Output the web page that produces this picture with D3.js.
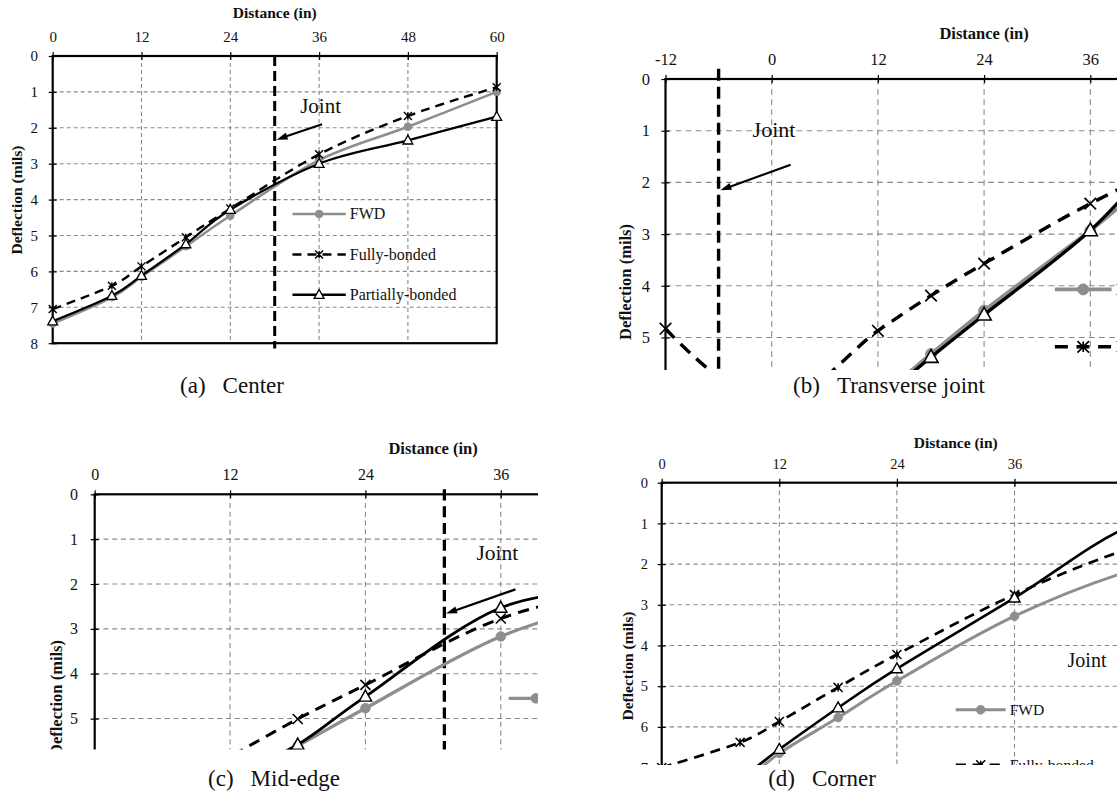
<!DOCTYPE html>
<html>
<head>
<meta charset="utf-8">
<script src="https://cdn.jsdelivr.net/npm/d3@7"></script>
<style>
  body { margin: 0; background: #fff; }
  svg { display: block; }
  text { font-family: "Liberation Serif", "Times New Roman", serif; fill: #111; }
</style>
</head>
<body>
<svg id="fig" width="1117" height="799"></svg>
<script>
// Sensor offsets from the load plate (in)
const distances = [0, 8, 12, 18, 24, 36, 48, 60];
const distancesTransverse = [-12, 0, 12, 18, 24, 36, 48, 60];

// Tick labels
const distanceTicks = [0, 12, 24, 36, 48, 60];
const distanceTicksTransverse = [-12, 0, 12, 24, 36, 48, 60];
const deflectionTicks8 = [0, 1, 2, 3, 4, 5, 6, 7, 8];
const deflectionTicks9 = [0, 1, 2, 3, 4, 5, 6, 7, 8, 9];

const seriesNames = ["FWD", "Fully-bonded", "Partially-bonded"];

// Deflection basins (mils)
const centerFWD       = [7.45, 6.72, 6.15, 5.30, 4.45, 2.90, 1.97, 1.00];
const centerFully     = [7.05, 6.40, 5.86, 5.05, 4.25, 2.74, 1.67, 0.87];
const centerPartially = [7.39, 6.68, 6.12, 5.24, 4.28, 3.00, 2.35, 1.69];

const transverseFWD       = [6.10, 7.60, 6.15, 5.32, 4.48, 2.93, 1.35, 0.80];
const transverseFully     = [4.83, 6.30, 4.87, 4.19, 3.57, 2.41, 1.45, 0.70];
const transversePartially = [6.30, 7.50, 6.20, 5.38, 4.56, 2.93, 0.90, 0.30];

const midEdgeFWD       = [7.60, 6.90, 6.40, 5.61, 4.77, 3.17, 2.25, 1.40];
const midEdgeFully     = [7.05, 6.40, 5.85, 5.01, 4.25, 2.77, 2.05, 1.50];
const midEdgePartially = [7.50, 6.80, 6.30, 5.58, 4.51, 2.53, 2.10, 1.70];

const cornerFWD       = [8.50, 7.40, 6.65, 5.77, 4.87, 3.28, 2.15, 1.50];
const cornerFully     = [7.00, 6.38, 5.87, 5.03, 4.22, 2.75, 1.60, 0.90];
const cornerPartially = [8.30, 7.25, 6.55, 5.53, 4.57, 2.83, 1.05, 0.50];

// Panel layout (pixels) and annotation placement (data units)
const panels = [
  {
    key: "a", caption: ["(a)", "Center"], capX: 232, capY: 385, star: true,
    xs: distances, fwd: centerFWD, full: centerFully, part: centerPartially,
    xDomain: [0, 60], xRange: [52.7, 496.7], yDomain: [0, 8], yRange: [56, 343.2],
    xTicks: distanceTicks, yTicks: deflectionTicks8,
    clip: [0, 0, 560, 372], k: 1,
    tickFont: 15, titleFont: 15.5, titleY: 13, xLabelOff: 19.3, yLabelOff: 14.7,
    yTitleX: 17, yTitleY: 200,
    joint: 30, jointTop: 0, jointBottom: 8.15, jointWidth: 3,
    arrow: [[36.4, 1.9], [30.25, 2.33]], jointLabel: [36.2, 1.4], jointFont: 21,
    legend: { x0: 32.4, x1: 39.6, rows: [4.4, 5.53, 6.65], font: 16 }
  },
  {
    key: "b", caption: ["(b)", "Transverse joint"], capX: 889, capY: 385, star: false,
    xs: distancesTransverse, fwd: transverseFWD, full: transverseFully, part: transversePartially,
    xDomain: [-12, 60], xRange: [665.5, 1302.7], yDomain: [0, 8], yRange: [79, 492.6],
    xTicks: distanceTicksTransverse, yTicks: deflectionTicks8,
    clip: [575, 0, 542, 370], k: 1.44,
    tickFont: 16.5, titleFont: 16.5, titleY: 34, xLabelOff: 19.7, yLabelOff: 15.5,
    yTitleX: 626, yTitleY: 282,
    joint: -6, jointTop: -0.2, jointBottom: 8.15, jointWidth: 3.4,
    arrow: [[2.14, 1.66], [-5.8, 2.15]], jointLabel: [0.26, 0.99], jointFont: 22,
    legend: { x0: 32.0, x1: 38.4, rows: [4.07, 5.18, 6.29], font: 17 }
  },
  {
    key: "c", caption: ["(c)", "Mid-edge"], capX: 274, capY: 778, star: false,
    xs: distances, fwd: midEdgeFWD, full: midEdgeFully, part: midEdgePartially,
    xDomain: [0, 60], xRange: [94.7, 771.5], yDomain: [0, 9], yRange: [494.3, 897.95],
    xTicks: distanceTicks, yTicks: deflectionTicks9,
    clip: [0, 420, 538, 329.5], k: 1.25,
    tickFont: 16, titleFont: 16.5, titleY: 449, xLabelOff: 19.3, yLabelOff: 16.7,
    yTitleX: 57, yTitleY: 698,
    joint: 31, jointTop: -0.11, jointBottom: 9.1, jointWidth: 3.3,
    arrow: [[37.3, 2.12], [31.15, 2.66]], jointLabel: [35.7, 1.3], jointFont: 21.5,
    legend: { x0: 36.7, x1: 41.5, rows: [4.55, 5.9, 7.25], font: 16 }
  },
  {
    key: "d", caption: ["(d)", "Corner"], capX: 822, capY: 778, star: true,
    xs: distances, fwd: cornerFWD, full: cornerFully, part: cornerPartially,
    xDomain: [0, 60], xRange: [661.7, 1249.7], yDomain: [0, 9], yRange: [482.7, 849],
    xTicks: distanceTicks, yTicks: deflectionTicks9,
    clip: [575, 420, 542, 345], k: 1.13,
    tickFont: 14.5, titleFont: 15.5, titleY: 442.7, xLabelOff: 18.7, yLabelOff: 13.7,
    yTitleX: 628, yTitleY: 666,
    joint: 54, jointTop: -0.1, jointBottom: 9.1, jointWidth: 3,
    arrow: [[47.6, 4.9], [53.8, 5.4]], jointLabel: [43.4, 4.36], jointFont: 20,
    legend: { x0: 30.0, x1: 35.1, rows: [5.58, 6.93, 8.28], font: 15.6 }
  }
];

const GRAY = "#8e8e8e";
const GRID = "#8a8a8a";
const svg = d3.select("#fig");
svg.append("rect").attr("width", 1117).attr("height", 799).attr("fill", "#fff");
const defs = svg.append("defs");

function crossPath(r, star) {
  const base = `M${-r},${-r}L${r},${r}M${-r},${r}L${r},${-r}`;
  return star ? base + `M0,${-r * 0.9}L0,${r * 0.9}` : base;
}
function trianglePath(r) {
  return `M0,${-r}L${r * 0.95},${r * 0.7}L${-r * 0.95},${r * 0.7}Z`;
}

function drawMarker(sel, type, k, star) {
  if (type === 0) {
    sel.append("circle").attr("r", 3.8 * k).attr("fill", GRAY).attr("stroke", GRAY);
  } else if (type === 1) {
    sel.append("path").attr("d", crossPath(4 * k, star)).attr("fill", "none")
      .attr("stroke", "#000").attr("stroke-width", 1.4 * Math.sqrt(k));
  } else {
    sel.append("path").attr("d", trianglePath(5.2 * k)).attr("fill", "#fff")
      .attr("stroke", "#000").attr("stroke-width", 1.3 * Math.sqrt(k));
  }
}

function lineStyle(sel, type, k) {
  sel.attr("fill", "none");
  if (type === 0) {
    sel.attr("stroke", GRAY).attr("stroke-width", 2.6 * k);
  } else if (type === 1) {
    sel.attr("stroke", "#000").attr("stroke-width", 2.4 * k)
      .attr("stroke-dasharray", `${9 * k},${6 * k}`);
  } else {
    sel.attr("stroke", "#000").attr("stroke-width", 2.3 * k);
  }
}

function drawPanel(p) {
  const [cx, cy, cw, ch] = p.clip;
  defs.append("clipPath").attr("id", `clip-${p.key}`)
    .append("rect").attr("x", cx).attr("y", cy).attr("width", cw).attr("height", ch);

  const g = svg.append("g").attr("clip-path", `url(#clip-${p.key})`);
  const x = d3.scaleLinear().domain(p.xDomain).range(p.xRange);
  const y = d3.scaleLinear().domain(p.yDomain).range(p.yRange);
  const k = p.k;
  const [x0, x1] = p.xDomain, [y0, y1] = p.yDomain;

  // dashed grid
  const grid = g.append("g").attr("stroke", GRID).attr("stroke-width", 1.1)
    .attr("stroke-dasharray", `${4 * k},${3 * k}`);
  grid.selectAll(".gx").data(p.xTicks.filter(t => t > x0 && t < x1)).join("line")
    .attr("x1", d => x(d)).attr("x2", d => x(d)).attr("y1", y(y0)).attr("y2", y(y1));
  grid.selectAll(".gy").data(p.yTicks.filter(t => t > y0 && t < y1)).join("line")
    .attr("y1", d => y(d)).attr("y2", d => y(d)).attr("x1", x(x0)).attr("x2", x(x1));

  // axes with ticks crossing the frame
  const plain = d => String(d);
  const xAxis = d3.axisTop(x).tickValues(p.xTicks).tickFormat(plain)
    .tickSize(4).tickPadding(p.xLabelOff - 4 - 0.34 * p.tickFont);
  const gx = g.append("g").attr("transform", `translate(0,${y(y0)})`).call(xAxis);
  const yAxis = d3.axisLeft(y).tickValues(p.yTicks).tickFormat(plain)
    .tickSize(4).tickPadding(p.yLabelOff - 4);
  const gy = g.append("g").attr("transform", `translate(${x(x0)},0)`).call(yAxis);
  [gx, gy].forEach(a => {
    a.select(".domain").remove();
    a.selectAll("text").attr("font-size", p.tickFont)
      .attr("font-family", "'Liberation Serif', serif").attr("fill", "#111");
    a.selectAll(".tick line").attr("stroke", "#000").attr("stroke-width", 1.2);
  });
  gx.selectAll(".tick line").attr("y1", 4).attr("y2", -4);
  gy.selectAll(".tick line").attr("x1", 4).attr("x2", -4);

  // plot frame
  g.append("rect").attr("x", x(x0)).attr("y", y(y0))
    .attr("width", x(x1) - x(x0)).attr("height", y(y1) - y(y0))
    .attr("fill", "none").attr("stroke", "#000").attr("stroke-width", 2.2);

  // axis titles
  g.append("text").attr("x", (x(x0) + x(x1)) / 2).attr("y", p.titleY + 0.33 * p.titleFont)
    .attr("text-anchor", "middle").attr("font-weight", "bold").attr("font-size", p.titleFont)
    .text("Distance (in)");
  g.append("text")
    .attr("transform", `translate(${p.yTitleX + 0.33 * p.titleFont},${p.yTitleY}) rotate(-90)`)
    .attr("text-anchor", "middle").attr("font-weight", "bold").attr("font-size", p.titleFont)
    .text("Deflection (mils)");

  // joint location
  g.append("line").attr("x1", x(p.joint)).attr("x2", x(p.joint))
    .attr("y1", y(p.jointTop)).attr("y2", y(p.jointBottom))
    .attr("stroke", "#000").attr("stroke-width", p.jointWidth)
    .attr("stroke-dasharray", `${10 * Math.sqrt(k)},${5 * Math.sqrt(k)}`);

  // series
  const seriesVals = [p.fwd, p.full, p.part];
  const line = d3.line().x(d => x(d[0])).y(d => y(d[1])).curve(d3.curveCardinal.tension(0));
  seriesVals.forEach((vals, i) => {
    const pts = p.xs.map((d, j) => [d, vals[j]]);
    g.append("path").datum(pts).attr("d", line).call(lineStyle, i, k);
    g.append("g").selectAll("g").data(pts).join("g")
      .attr("transform", d => `translate(${x(d[0])},${y(d[1])})`)
      .each(function () { drawMarker(d3.select(this), i, k, p.star); });
  });

  // legend
  const L = p.legend;
  seriesNames.forEach((name, i) => {
    const ly = y(L.rows[i]);
    const row = g.append("g");
    row.append("line").attr("x1", x(L.x0)).attr("x2", x(L.x1)).attr("y1", ly).attr("y2", ly)
      .call(lineStyle, i, k);
    const m = row.append("g").attr("transform", `translate(${(x(L.x0) + x(L.x1)) / 2},${ly})`);
    drawMarker(m, i, k, true);
    row.append("text").attr("x", x(L.x1) + 4).attr("y", ly + 0.33 * L.font)
      .attr("font-size", L.font).text(name);
  });

  // joint annotation
  const [a0, a1] = p.arrow;
  const ax0 = x(a0[0]), ay0 = y(a0[1]), ax1 = x(a1[0]), ay1 = y(a1[1]);
  const ang = Math.atan2(ay1 - ay0, ax1 - ax0);
  const hl = 11, hw = 3.6;
  g.append("line").attr("x1", ax0).attr("y1", ay0)
    .attr("x2", ax1 - Math.cos(ang) * hl * 0.8).attr("y2", ay1 - Math.sin(ang) * hl * 0.8)
    .attr("stroke", "#000").attr("stroke-width", 2.2);
  g.append("path")
    .attr("d", `M0,0L${-hl},${-hw}L${-hl},${hw}Z`)
    .attr("transform", `translate(${ax1},${ay1}) rotate(${ang * 180 / Math.PI})`)
    .attr("fill", "#000");
  g.append("text").attr("x", x(p.jointLabel[0])).attr("y", y(p.jointLabel[1]) + 0.33 * p.jointFont)
    .attr("text-anchor", "middle").attr("font-size", p.jointFont).text("Joint");

  // caption
  const cap = svg.append("g");
  const t1 = cap.append("text").attr("font-size", 23).attr("y", p.capY + 7.8).text(p.caption[0]);
  const w1 = t1.node().getComputedTextLength();
  const t2 = cap.append("text").attr("font-size", 23).attr("x", w1 + 17).attr("y", p.capY + 7.8)
    .text(p.caption[1]);
  const total = w1 + 17 + t2.node().getComputedTextLength();
  cap.attr("transform", `translate(${p.capX - total / 2},0)`);
}

panels.forEach(drawPanel);
</script>
</body>
</html>
